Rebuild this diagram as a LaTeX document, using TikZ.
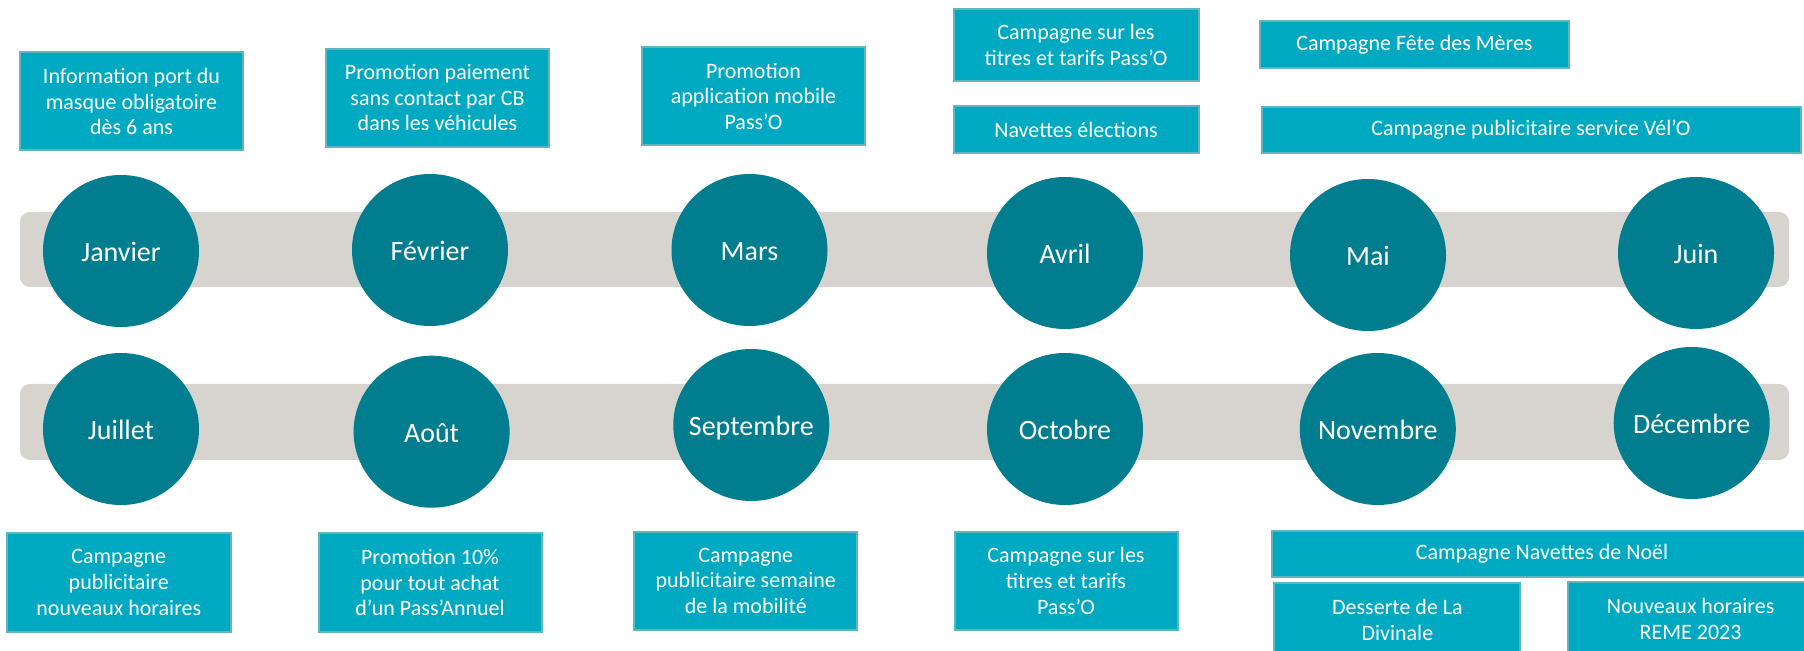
\documentclass[tikz,border=0pt]{standalone}
\usepackage{fontspec}
\setmainfont{Carlito}
\usepackage{xcolor}
\definecolor{cBox}{HTML}{00A9C2}
\definecolor{cLine}{HTML}{62B5BE}
\definecolor{cMonth}{HTML}{007D8F}
\definecolor{cBand}{HTML}{D7D3CF}
\usetikzlibrary{shapes.geometric}
\tikzset{
  node-box/.style={draw=cLine,line width=1pt,fill=cBox,text=white,
    align=center,inner sep=0pt,font=\fontsize{11}{12.85}\selectfont},
  node-month/.style={ellipse,fill=cMonth,text=white,inner ysep=0pt,inner xsep=-8pt,
    text height=10.5pt,text depth=0pt,
    minimum width=78pt,minimum height=76pt,font=\fontsize{14}{16}\selectfont},
  band/.style={fill=cBand,rounded corners=5pt},
}
\begin{document}
\begin{tikzpicture}[x=0.5pt,y=-0.5pt]
  \clip (0,0) rectangle (1804,651);
  % bandes grises
  \fill[band] (20,212) rectangle (1789,287);
  \fill[band] (20,384) rectangle (1789,460);

  % premier semestre
  \node[node-month] (jan) at (121,251) {Janvier};
  \node[node-month] (feb) at (430,250) {Février};
  \node[node-month] (mar) at (749.5,250) {Mars};
  \node[node-month] (apr) at (1065,253) {Avril};
  \node[node-month] (may) at (1368,255) {Mai};
  \node[node-month] (jun) at (1696,253) {Juin};

  % second semestre
  \node[node-month] (jul) at (121,429) {Juillet};
  \node[node-month] (aug) at (431.6,431.7) {Août};
  \node[node-month] (sep) at (751.3,425) {Septembre};
  \node[node-month] (oct) at (1065,429) {Octobre};
  \node[node-month] (nov) at (1377.8,429) {Novembre};
  \node[node-month] (dec) at (1691.7,423) {Décembre};

  % actions du premier semestre
  \node[node-box,minimum width=111.5pt,minimum height=49pt] (masque) at (131.5,101.5)
    {Information port du\\masque obligatoire\\dès 6 ans};
  \node[node-box,minimum width=111.5pt,minimum height=49pt] (sans-contact) at (437.5,97.7)
    {Promotion paiement\\sans contact par CB\\dans les véhicules};
  \node[node-box,minimum width=111.5pt,minimum height=49pt] (appli) at (753.5,96.3)
    {Promotion\\application mobile\\Pass’O};
  \node[node-box,minimum width=122.5pt,minimum height=36pt] (titres-avr) at (1076,45)
    {Campagne sur les\\titres et tarifs Pass’O};
  \node[node-box,minimum width=122.5pt,minimum height=23.5pt] (elections) at (1076,130)
    {Navettes élections};
  \node[node-box,minimum width=154.5pt,minimum height=23.5pt] (fete-meres) at (1414.4,45)
    {Campagne Fête des Mères};
  \node[node-box,minimum width=269.5pt,minimum height=23pt] (velo) at (1531,129.7)
    {Campagne publicitaire service Vél’O};

  % actions du second semestre
  \node[node-box,minimum width=112pt,minimum height=49pt] (horaires) at (118.8,582.5)
    {Campagne\\publicitaire\\nouveaux horaires};
  \node[node-box,minimum width=111.5pt,minimum height=49pt] (pass-annuel) at (430,582.5)
    {Promotion 10\%\\pour tout achat\\d’un Pass’Annuel};
  \node[node-box,minimum width=111.5pt,minimum height=49pt] (mobilite) at (745.8,580.8)
    {Campagne\\publicitaire semaine\\de la mobilité};
  \node[node-box,minimum width=111.5pt,minimum height=49pt] (titres-oct) at (1066,580.8)
    {Campagne sur les\\titres et tarifs\\Pass’O};
  \node[node-box,minimum width=270.5pt,minimum height=23pt] (noel) at (1542,553.8)
    {Campagne Navettes de Noël};
  \node[node-box,minimum width=123pt,minimum height=37pt] (divinale) at (1397.4,620)
    {Desserte de La\\Divinale};
  \node[node-box,minimum width=122.5pt,minimum height=37pt] (reme) at (1690.6,619)
    {Nouveaux horaires\\REME 2023};
\end{tikzpicture}
\end{document}
